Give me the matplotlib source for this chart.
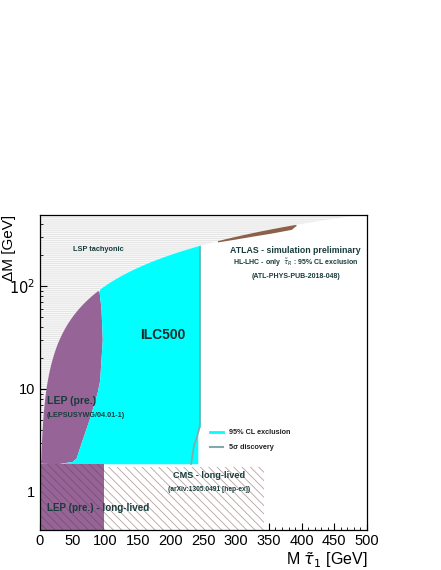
import matplotlib.pyplot as plt
import matplotlib.ticker as ticker
import numpy as np

plt.rcParams['font.family'] = ['Liberation Sans', 'DejaVu Sans']
plt.rcParams['hatch.linewidth'] = 0.6

# region boundaries (stau mass M and Delta M, both in GeV)
lep_edge_m = [28, 50, 56, 64, 76, 88, 92, 96, 94, 91]
lep_edge_dm = [1.85, 1.95, 2.1, 3.0, 5.0, 9.0, 12, 30, 60, 88]
ilc_right_m = [246, 246, 242, 242]
ilc_right_dm = [246, 4.2, 4.0, 1.85]
disc_m = [231, 235.5, 238.5, 243, 244.5, 244.5]
disc_dm = [1.86, 2.84, 3.18, 3.97, 4.5, 238]
atlas_low_m = [272, 300, 326, 352, 385, 393]
atlas_low_dm = [264, 282, 301, 320, 350, 385]
lep_ll_m = [0, 98]
lep_ll_top = 1.85
cms_ll_m = [98, 342]
cms_ll_top = 1.75

xticks = [0, 50, 100, 150, 200, 250, 300, 350, 400, 450, 500]
ytick_labels = {1: '1', 10: '10', 100: '$10^{2}$'}

ymin, ymax = 0.425, 488

fig = plt.figure(figsize=(4.41, 5.70), dpi=100)
ax = fig.add_axes([40 / 441, 1 - 530 / 570, 327 / 441, 315 / 570])
ax.set_yscale('log')

# kinematic limit dM = M (LSP tachyonic above it)
kin = np.geomspace(0.3, 520, 600)
ax.fill_between(kin, kin, 1000, facecolor='#f8f8f8', edgecolor='#e2e2e2',
                hatch='--------', lw=0, zorder=1)

# LEP (prompt)
d = kin[(kin >= 1.85) & (kin <= 89)]
ax.fill(list(d) + lep_edge_m[::-1], list(d) + lep_edge_dm[::-1],
        color='#966496', lw=0, zorder=2)

# ILC500
d = kin[(kin >= 92) & (kin <= 245)]
ax.fill(lep_edge_m + list(d) + ilc_right_m, lep_edge_dm + list(d) + ilc_right_dm,
        color='#00ffff', lw=0, zorder=2)

# ATLAS HL-LHC
d = kin[(kin >= 272) & (kin <= 393)][::-1]
ax.fill(atlas_low_m + list(d), atlas_low_dm + list(d),
        color='#8c6049', lw=0, zorder=2)

# long-lived searches
ax.fill_between(lep_ll_m, ymin, lep_ll_top, facecolor='#966496',
                edgecolor='#7d5074', hatch='\\\\\\\\', lw=0, zorder=2)
ax.fill_between(cms_ll_m, ymin, cms_ll_top, facecolor='white',
                edgecolor='#b8a2a2', hatch='\\\\\\\\', lw=0, zorder=2)

# 5 sigma discovery
ax.plot(disc_m, disc_dm, color='#86a8a8', lw=1.2, zorder=3)

# legend
ax.plot([260, 280], [3.8, 3.8], color='#00ffff', lw=2, zorder=3)
ax.plot([260, 280], [2.72, 2.72], color='#86a8a8', lw=1.5, zorder=3)
ax.text(289, 3.8, '95% CL exclusion', fontsize=5.2, fontweight='bold',
        color='#222222', va='center')
ax.text(289, 2.72, '5σ discovery', fontsize=5.2, fontweight='bold',
        color='#222222', va='center')

txt = '#183c3c'
ax.text(50, 227, 'LSP tachyonic', fontsize=5.3, fontweight='bold', color=txt, va='center')
ax.text(188, 33.2, 'ILC500', fontsize=10, fontweight='bold', color='#1c2a2a',
        ha='center', va='center')
ax.text(10.7, 7.65, 'LEP (pre.)', fontsize=7.6, fontweight='bold', color=txt, va='center')
ax.text(10.7, 5.47, '(LEPSUSYWG/04.01-1)', fontsize=5.2, fontweight='bold', color=txt,
        va='center')
ax.text(10.7, 0.70, 'LEP (pre.) - long-lived', fontsize=7.1, fontweight='bold',
        color=txt, va='center')
ax.text(258, 1.45, 'CMS - long-lived', fontsize=6.6, fontweight='bold', color=txt,
        ha='center', va='center')
ax.text(258, 1.04, '(arXiv:1305.0491 [hep-ex])', fontsize=4.8, fontweight='bold',
        color=txt, ha='center', va='center')
ax.text(391, 221, 'ATLAS - simulation preliminary', fontsize=6.3, fontweight='bold',
        color=txt, ha='center', va='center')
ax.text(391, 166, r'HL-LHC - only  $\tilde{\tau}_{R}$ : 95% CL exclusion', fontsize=5.0,
        fontweight='bold', color=txt, ha='center', va='center')
ax.text(391, 124, '(ATL-PHYS-PUB-2018-048)', fontsize=5.0, fontweight='bold',
        color=txt, ha='center', va='center')

ax.set_xlim(0, 500)
ax.set_ylim(ymin, ymax)
ax.xaxis.set_major_locator(ticker.FixedLocator(xticks))
ax.xaxis.set_minor_locator(ticker.MultipleLocator(10))
ax.yaxis.set_major_locator(ticker.FixedLocator(list(ytick_labels)))
ax.yaxis.set_major_formatter(ticker.FuncFormatter(lambda v, p: ytick_labels.get(round(v), '')))
ax.yaxis.set_minor_locator(ticker.LogLocator(subs=np.arange(2, 10)))
ax.yaxis.set_minor_formatter(ticker.NullFormatter())
ax.tick_params(which='both', direction='in', top=False, right=False, labelsize=10.5)
ax.tick_params(which='major', length=5)
ax.tick_params(which='minor', length=2.5)
ax.tick_params(axis='x', pad=3)
for s in ax.spines.values():
    s.set_linewidth(0.9)

fig.text(367 / 441, 1 - 560 / 570, r'M $\tilde{\tau}_{1}$ [GeV]', fontsize=11.5,
         ha='right', va='center')
fig.text(9 / 441, 1 - 215 / 570, 'ΔM [GeV]', fontsize=11, rotation=90,
         ha='center', va='top')

fig.savefig('out.png', dpi=100)
